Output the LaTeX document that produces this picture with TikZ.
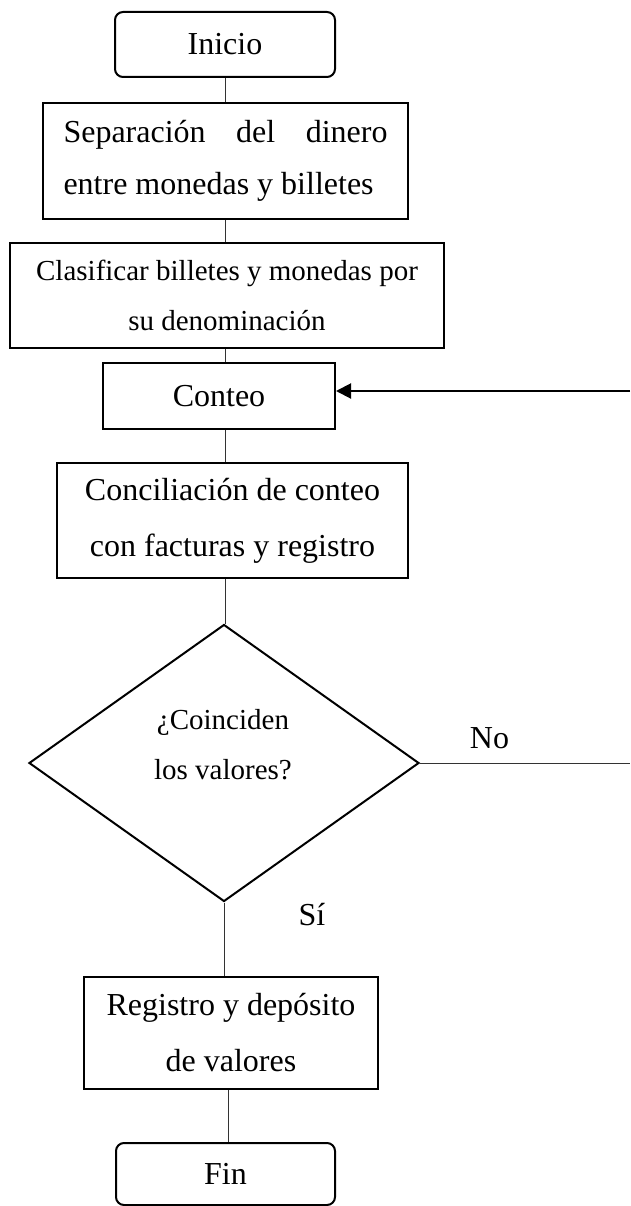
\documentclass[tikz,border=0pt]{standalone}
\usepackage{fontspec}
\setmainfont{Liberation Serif}
\usetikzlibrary{shapes.geometric,arrows.meta}
\begin{document}
\begin{tikzpicture}[x=1pt,y=-1pt,
  box/.style={draw, line width=2pt, inner sep=0pt, align=center, font=\fontsize{32}{52}\selectfont},
  term/.style={box, rounded corners=8pt},
  conn/.style={draw=black!80, line width=1pt},
  lbl/.style={font=\fontsize{32}{38}\selectfont, inner sep=0pt, anchor=base},
  decision/.style={draw, line width=2pt, shape=diamond, inner sep=0pt, minimum width=390pt, minimum height=277pt},
  ]
\useasboundingbox (0,0) rectangle (630,1206);
\coordinate (spine) at (225,0);

\node[term, minimum width=220pt, minimum height=65pt] (ini) at (225,44.5) {Inicio};
\node[box, align=left, minimum width=365pt, minimum height=116pt] (sep) at (225.5,161)
  {\makebox[324pt][s]{Separación del dinero}\\entre monedas y billetes};
\node[box, font=\fontsize{29}{50}\selectfont, minimum width=434pt, minimum height=105pt] (clas) at (227,295.5)
  {Clasificar billetes y monedas por\\su denominación};
\node[box, minimum width=232pt, minimum height=66pt] (cont) at (219,396) {Conteo};
\node[box, font=\fontsize{32}{56}\selectfont, minimum width=351pt, minimum height=115pt] (conc) at (232.5,520.5)
  {Conciliación de conteo\\con facturas y registro};
\node[decision] (dia) at (224,763) {};
\node[align=center, inner sep=0pt, font=\fontsize{29}{50}\selectfont] (dq) at (223,745) {¿Coinciden\\los valores?};
\node[box, font=\fontsize{32}{56}\selectfont, minimum width=294pt, minimum height=112pt] (reg) at (231,1033)
  {Registro y depósito\\de valores};
\node[term, minimum width=219pt, minimum height=62pt] (fin) at (225.5,1174) {Fin};

\node[lbl] (no) at (489.5,748) {No};
\node[lbl] (si) at (312,925) {Sí};

\draw[conn] (spine |- ini.south) -- (spine |- sep.north);
\draw[conn] (spine |- sep.south) -- (spine |- clas.north);
\draw[conn] (spine |- clas.south) -- (spine |- cont.north);
\draw[conn] (spine |- cont.south) -- (spine |- conc.north);
\draw[conn] (spine |- conc.south) -- (spine |- dia.north);
\draw[conn] (dia.south) -- (dia.south |- reg.north);
\draw[conn] ([xshift=3pt]spine |- reg.south) -- ([xshift=3pt]spine |- fin.north);

\coordinate (noend) at (630,763);
\draw[conn] (dia.east) -- (noend);
\coordinate (ret) at (630,391);
\draw[line width=2pt, -{Triangle[length=15pt,width=15pt]}] (ret) -- (ret -| cont.east);
\end{tikzpicture}
\end{document}
